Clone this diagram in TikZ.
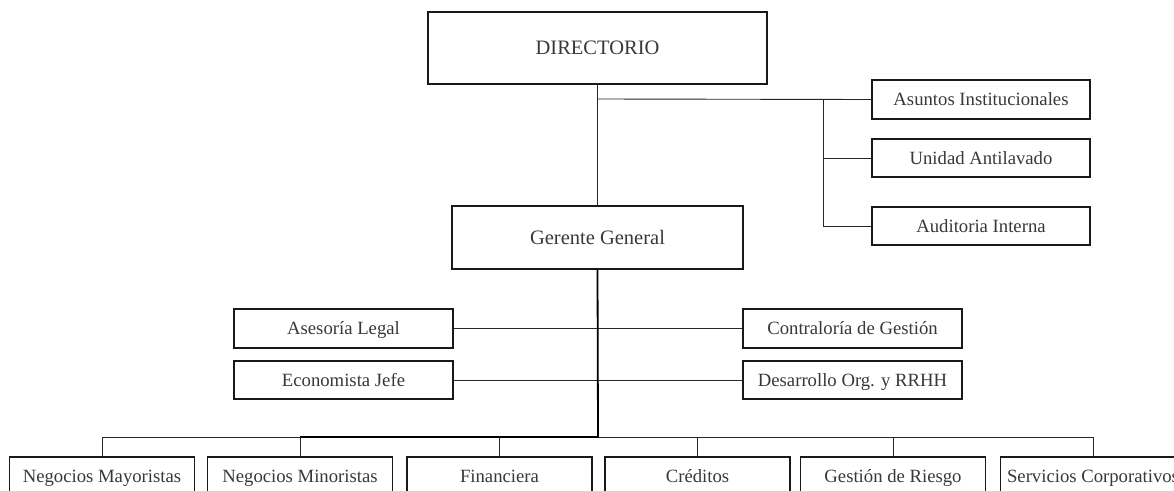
\documentclass[tikz,border=0pt]{standalone}
\usepackage{fontspec}
\setmainfont{Liberation Serif}
\begin{document}
\begin{tikzpicture}[x=1pt,y=-1pt,
  box/.style={draw=black!90,line width=1.2pt,rectangle,inner sep=0pt,
    text=black!78,font=\fontsize{18.7}{20}\selectfont,
    text height=15.4pt,text depth=3pt,
    minimum width=219pt,minimum height=39pt},
  bigbox/.style={box,font=\fontsize{20.5}{22}\selectfont,
    text height=16pt,text depth=3pt},
  botbox/.style={box,minimum width=185pt},
  link/.style={draw=black!85,line width=0.9pt},
  mainlink/.style={draw=black,line width=1.8pt}]
\useasboundingbox (0,0) rectangle (1174,490);
\clip (0,0) rectangle (1174,490);
% top
\node[bigbox,minimum width=339pt,minimum height=72pt] (dir) at (597.5,48) {DIRECTORIO};
\node[bigbox,minimum width=291pt,minimum height=63pt] (ger) at (597.5,237.5) {Gerente General};
\node[box,minimum width=218pt] (asu) at (981,99.5) {Asuntos Institucionales};
\node[box,minimum width=218pt,minimum height=38pt] (uni) at (981,158) {Unidad Antilavado};
\node[box,minimum width=218pt,minimum height=38pt] (aud) at (981,226) {Auditoria Interna};
% staff
\node[box] (ase) at (343.5,328.5) {Asesoría Legal};
\node[box,minimum height=38pt] (eco) at (343.5,380) {Economista Jefe};
\node[box] (con) at (852.5,328.5) {Contraloría de Gestión};
\node[box,minimum height=38pt] (des) at (852.5,380) {Desarrollo Org. y RRHH};
% bottom
\node[botbox] (nma) at (102,476.5) {Negocios Mayoristas};
\node[botbox] (nmi) at (300,476.5) {Negocios Minoristas};
\node[botbox] (fin) at (499.5,476.5) {Financiera};
\node[botbox] (cre) at (697.5,476.5) {Créditos};
\node[botbox] (gri) at (893,476.5) {Gestión de Riesgo};
\node[botbox] (ser) at (1093,476.5) {Servicios Corporativos};
% connectors
\coordinate (j1) at (598,99);
\coordinate (j2) at (823,99);
\coordinate (bus) at (598,437);
\coordinate (busL) at (102,437);
\coordinate (busR) at (1093,437);
\coordinate (busT) at (300,437);
\draw[link] (dir.south) -- (ger.north);
\draw[link] (j1) -- (asu.west);
\draw[link] (j2) |- (uni.west);
\draw[link] (j2) |- (aud.west);
\draw[link] (ase.east) -- (con.west);
\draw[link] (eco.east) -- (des.west);
\draw[link] (busL) -- (busR);
\draw[mainlink] (ger.south) -- (bus) -- (busT);
\foreach \n in {nma,nmi,fin,cre,gri,ser}
  \draw[link] (\n.north) -- (\n.north |- bus);
\end{tikzpicture}
\end{document}
